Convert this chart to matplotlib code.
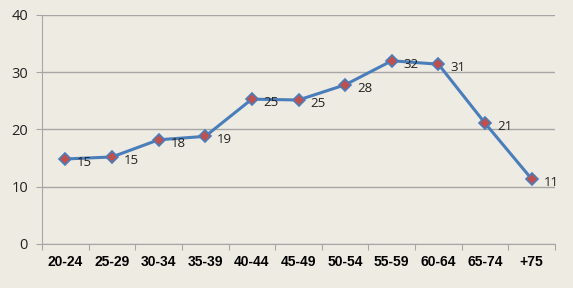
import matplotlib
matplotlib.use("Agg")
import matplotlib.pyplot as plt
import numpy as np

categories = ["20-24", "25-29", "30-34", "35-39", "40-44", "45-49",
              "50-54", "55-59", "60-64", "65-74", "+75"]
values = [14.85, 15.2, 18.2, 18.8, 25.3, 25.15, 27.8, 32.0, 31.4, 21.1, 11.35]
labels = ["15", "15", "18", "19", "25", "25", "28", "32", "31", "21", "11"]

bg = "#EEEBE2"
fig = plt.figure(figsize=(5.73, 2.88), dpi=100, facecolor=bg)
ax = fig.add_axes([0.0733, 0.1528, 0.8953, 0.7952], facecolor=bg)

x = np.arange(len(categories))
ax.plot(x, values, color="#4A7EBB", lw=2.2, marker="D", markersize=6,
        markerfacecolor="#C0504D", markeredgecolor="#4A7EBB", markeredgewidth=1.2,
        zorder=3)

for xi, yi, lab in zip(x, values, labels):
    ax.annotate(lab, (xi, yi), xytext=(8.5, -2.5), textcoords="offset points",
                ha="left", va="center", fontsize=9.5, family="Open Sans",
                color="#222222")

ax.set_xlim(-0.5, len(categories) - 0.5)
ax.set_ylim(0, 40)
ax.set_yticks([0, 10, 20, 30, 40])
ax.yaxis.grid(True, color="#A6A6A6", lw=1)
ax.set_axisbelow(True)

ax.set_xticks(np.arange(len(categories) + 1) - 0.5)
ax.set_xticklabels([])
ax.set_xticks(x, minor=True)
ax.set_xticklabels(categories, minor=True, fontsize=10, fontweight="bold",
                   family="Liberation Sans")
ax.tick_params(axis="x", which="minor", length=0, pad=8)
ax.tick_params(axis="x", which="major", length=4, color="#A6A6A6")
ax.tick_params(axis="y", length=4, color="#A6A6A6", labelsize=10.5, pad=6,
               labelcolor="#222222")
for t in ax.get_yticklabels():
    t.set_family("Open Sans")

for s in ["top", "right"]:
    ax.spines[s].set_visible(False)
for s in ["left", "bottom"]:
    ax.spines[s].set_color("#A6A6A6")

fig.savefig("out.png", dpi=100, facecolor=bg)
